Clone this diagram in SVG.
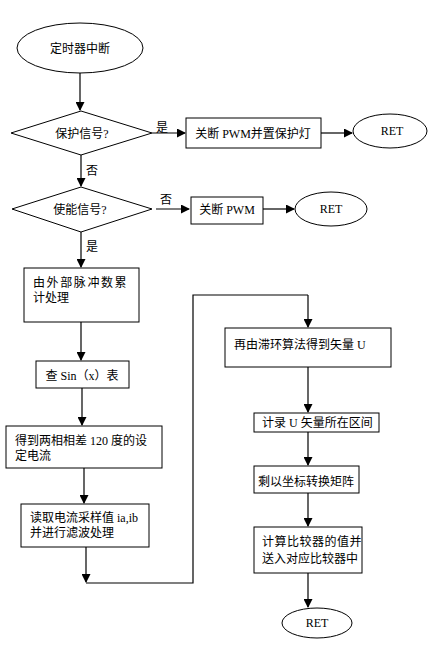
<svg xmlns="http://www.w3.org/2000/svg" width="430" height="653" viewBox="0 0 430 653">
<defs>
<marker id="ah" markerWidth="9" markerHeight="9" refX="8" refY="4.5" orient="auto" markerUnits="userSpaceOnUse">
<path d="M0,0 L9,4.5 L0,9 Z" fill="#000"/>
</marker>
<style>
.s{fill:#fff;stroke:#000;stroke-width:1}
.c{fill:none;stroke:#000;stroke-width:1.2}
.a{marker-end:url(#ah)}
text{font-family:"Liberation Serif","Noto Sans CJK SC",serif;font-size:12px;fill:#000}
.m{text-anchor:middle}
</style>
</defs>
<rect width="430" height="653" fill="#fff"/>
<g id="connectors">
<line class="c a" x1="80" y1="73" x2="80" y2="110"/>
<line class="c a" x1="152" y1="133" x2="185" y2="133"/>
<line class="c a" x1="321" y1="133" x2="352" y2="133"/>
<line class="c a" x1="81" y1="155" x2="81" y2="186"/>
<line class="c a" x1="156" y1="209" x2="189" y2="209"/>
<line class="c a" x1="263" y1="209" x2="294" y2="209"/>
<line class="c a" x1="81" y1="232" x2="81" y2="267"/>
<line class="c a" x1="81" y1="322" x2="81" y2="360"/>
<line class="c a" x1="82" y1="388" x2="82" y2="425"/>
<line class="c a" x1="84" y1="468" x2="84" y2="503"/>
<line class="c a" x1="86" y1="547" x2="86" y2="582"/>
<polyline class="c" points="86,583 193,583 193,295 308,295"/>
<line class="c a" x1="308" y1="295" x2="308" y2="327"/>
<line class="c a" x1="308" y1="367" x2="308" y2="412"/>
<line class="c a" x1="308" y1="432" x2="308" y2="465"/>
<line class="c a" x1="308" y1="493" x2="308" y2="526"/>
<line class="c a" x1="308" y1="573" x2="308" y2="607"/>
<text x="156" y="132">是</text>
<text x="86" y="175">否</text>
<text x="160" y="204">否</text>
<text x="86" y="251">是</text>
</g>
<g id="start">
<ellipse class="s" cx="80" cy="48" rx="63" ry="25"/>
<text class="m" x="80" y="53">定时器中断</text>
</g>
<g id="d1">
<polygon class="s" points="11,133 81,111 152,133 81,155"/>
<text class="m" x="82" y="138">保护信号?</text>
</g>
<g id="b1">
<rect class="s" x="186" y="118" width="135" height="30"/>
<text class="m" x="253" y="138">关断 PWM并置保护灯</text>
</g>
<g id="ret1">
<ellipse class="s" cx="390" cy="131" rx="37" ry="17"/>
<text class="m" x="392" y="135">RET</text>
</g>
<g id="d2">
<polygon class="s" points="12,209 81,187 152,209 81,232"/>
<text class="m" x="80" y="214">使能信号?</text>
</g>
<g id="b2">
<rect class="s" x="191" y="197" width="72" height="27"/>
<text class="m" x="227" y="214">关断 PWM</text>
</g>
<g id="ret2">
<ellipse class="s" cx="331" cy="209" rx="36" ry="17"/>
<text class="m" x="331" y="213">RET</text>
</g>
<g id="b3">
<rect class="s" x="24" y="268" width="115" height="54"/>
<text x="33" y="287" letter-spacing="1.6">由外部脉冲数累</text>
<text x="33" y="302">计处理</text>
</g>
<g id="b4">
<rect class="s" x="36" y="361" width="93" height="27"/>
<text class="m" x="82" y="380">查 Sin（x）表</text>
</g>
<g id="b5">
<rect class="s" x="6" y="426" width="156" height="42"/>
<text x="15" y="445">得到两相相差 120 度的设</text>
<text x="15" y="460">定电流</text>
</g>
<g id="b6">
<rect class="s" x="21" y="504" width="128" height="43"/>
<text x="30" y="522">读取电流采样值 ia,ib</text>
<text x="30" y="537">并进行滤波处理</text>
</g>
<g id="b7">
<rect class="s" x="225" y="328" width="166" height="39"/>
<text x="234" y="349">再由滞环算法得到矢量 U</text>
</g>
<g id="b8">
<rect class="s" x="254" y="413" width="125" height="19"/>
<text x="262" y="427">计录 U 矢量所在区间</text>
</g>
<g id="b9">
<rect class="s" x="254" y="466" width="105" height="27"/>
<text x="258" y="486">剩以坐标转换矩阵</text>
</g>
<g id="b10">
<rect class="s" x="254" y="527" width="108" height="46"/>
<text x="262" y="546" letter-spacing="0.5">计算比较器的值并</text>
<text x="262" y="563">送入对应比较器中</text>
</g>
<g id="ret3">
<ellipse class="s" cx="317" cy="623" rx="35" ry="15"/>
<text class="m" x="317" y="627">RET</text>
</g>
</svg>
